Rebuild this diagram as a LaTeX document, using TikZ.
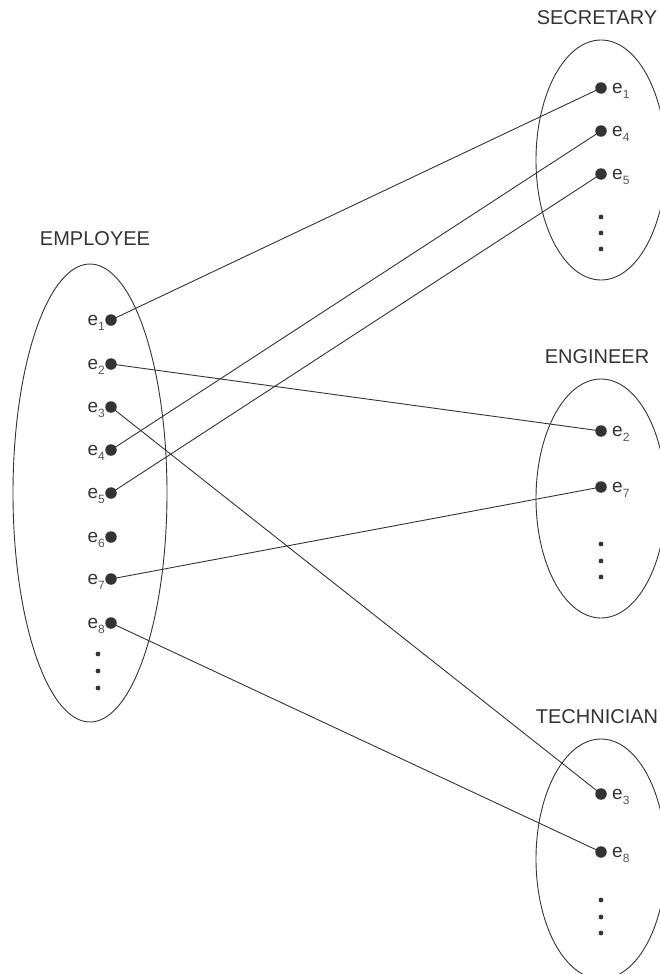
\documentclass[tikz,border=0pt]{standalone}
\usepackage{fontspec}
\setmainfont{Liberation Sans}
\usetikzlibrary{shapes.geometric}
\definecolor{ink}{HTML}{333333}
\definecolor{subink}{HTML}{555555}
\tikzset{
  setshape/.style={draw=ink, line width=0.9pt, ellipse, inner sep=0pt,
    minimum width=#1},
  bigdot/.style={circle, fill=ink, inner sep=0pt, minimum size=11.5pt},
  smalldot/.style={circle, fill=ink, inner sep=0pt, minimum size=4.8pt},
  settitle/.style={text=ink, font=\fontsize{20}{22}\selectfont},
  elabel/.style={text=ink, inner sep=0pt, font=\fontsize{19}{21}\selectfont},
  link/.style={draw=ink, line width=0.9pt},
}
\newcommand{\elem}[1]{e{\color{subink}\fontsize{12}{13}\selectfont\raisebox{-5pt}{#1}}}
\begin{document}
\begin{tikzpicture}[x=1pt, y=-1pt]
\useasboundingbox (0,0) rectangle (659,974);

% the four sets
\node[setshape=154pt, minimum height=458pt] (emp) at (90,493) {};
\node[setshape=130pt, minimum height=240pt] (sec) at (601,160) {};
\node[setshape=130pt, minimum height=239pt] (eng) at (601,498.5) {};
\node[setshape=130pt, minimum height=240pt] (tec) at (601,859) {};

\node[settitle] (tEmp) at (95,239) {EMPLOYEE};
\node[settitle] (tSec) at (597,18) {SECRETARY};
\node[settitle] (tEng) at (597,357) {ENGINEER};
\node[settitle] (tTec) at (597,717) {TECHNICIAN};

% elements of EMPLOYEE
\foreach \i/\y in {1/320,2/364,3/407,4/450,5/493,6/537,7/579,8/623} {
  \coordinate (L\i) at (111,\y);
}
% elements of the three subsets
\coordinate (S1) at (601,88);
\coordinate (S4) at (601,131);
\coordinate (S5) at (601,174);
\coordinate (G2) at (601,431);
\coordinate (G7) at (601,487);
\coordinate (T3) at (601,794);
\coordinate (T8) at (601,852);

% membership links
\draw[link] (L1) -- (S1);
\draw[link] (L2) -- (G2);
\draw[link] (L3) -- (T3);
\draw[link] (L4) -- (S4);
\draw[link] (L5) -- (S5);
\draw[link] (L7) -- (G7);
\draw[link] (L8) -- (T8);

% dots and their labels (label baseline a little below the dot centre)
\foreach \i in {1,...,8} {
  \node[bigdot] (dL\i) at (L\i) {};
  \node[elabel, anchor=base east] (lL\i) at ([xshift=-6pt,yshift=-5pt]L\i) {\elem{\i}};
}
\foreach \c/\n in {S1/1,S4/4,S5/5,G2/2,G7/7,T3/3,T8/8} {
  \node[bigdot] (d\c) at (\c) {};
  \node[elabel, anchor=base west] (l\c) at ([xshift=11pt,yshift=-5pt]\c) {\elem{\n}};
}

% continuation marks
\foreach \x/\ya/\yb/\yc/\k in {98/654/671/688/E, 601/217/233/249/S, 601/544/561/577/G, 601/900/917/933/T} {
  \node[smalldot] (m\k a) at (\x,\ya) {};
  \node[smalldot] (m\k b) at (\x,\yb) {};
  \node[smalldot] (m\k c) at (\x,\yc) {};
}
\end{tikzpicture}
\end{document}
